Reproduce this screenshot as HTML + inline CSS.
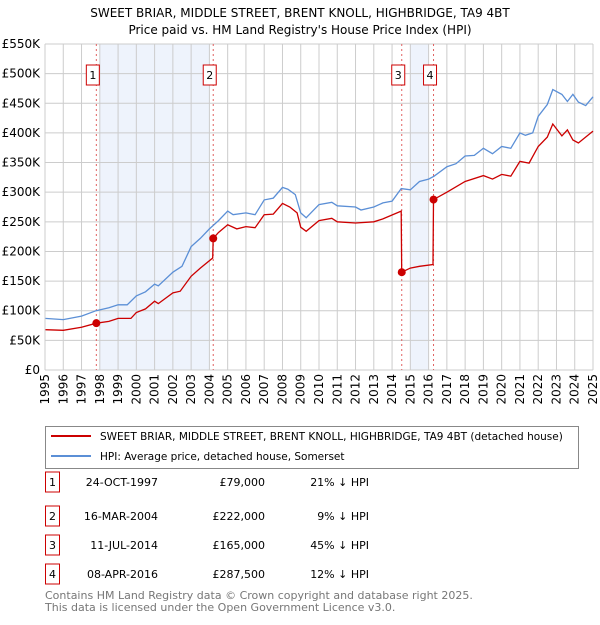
<!DOCTYPE html>
<html><head><meta charset="utf-8"><style>
body{margin:0;background:#fff;}
svg text{font-family:"DejaVu Sans","Liberation Sans",sans-serif;}
</style></head><body>
<svg id="c" width="600" height="620" xmlns="http://www.w3.org/2000/svg">
<text x="300" y="17" text-anchor="middle" font-size="12">SWEET BRIAR, MIDDLE STREET, BRENT KNOLL, HIGHBRIDGE, TA9 4BT</text>
<text x="300" y="34" text-anchor="middle" font-size="12">Price paid vs. HM Land Registry's House Price Index (HPI)</text>
<g id="plot"></g>
<rect x="45.5" y="426.5" width="533" height="42" fill="none" stroke="#888"/>
<line x1="51" y1="436" x2="91" y2="436" stroke="#cc0000" stroke-width="2"/>
<text x="100" y="440" font-size="10.5">SWEET BRIAR, MIDDLE STREET, BRENT KNOLL, HIGHBRIDGE, TA9 4BT (detached house)</text>
<line x1="51" y1="456" x2="91" y2="456" stroke="#5b8fd6" stroke-width="2"/>
<text x="100" y="460" font-size="10.5">HPI: Average price, detached house, Somerset</text>
<g id="table"></g>
<text x="45" y="599" font-size="11" fill="#777">Contains HM Land Registry data © Crown copyright and database right 2025.</text>
<text x="45" y="611" font-size="11" fill="#777">This data is licensed under the Open Government Licence v3.0.</text>
</svg>
<script>
const hpiT=[1995,1996,1997,1997.8,1998.5,1999,1999.5,2000,2000.5,2001,2001.2,2002,2002.5,2003,2003.5,2004,2004.5,2005,2005.3,2006,2006.5,2007,2007.5,2008,2008.3,2008.7,2009,2009.3,2010,2010.7,2011,2012,2012.3,2013,2013.5,2014,2014.5,2015,2015.5,2016,2016.3,2017,2017.5,2018,2018.5,2019,2019.5,2020,2020.5,2021,2021.3,2021.7,2022,2022.5,2022.8,2023.3,2023.6,2023.9,2024.2,2024.6,2025];
const hpiV=[87,85,91,100,105,110,110,125,132,145,142,165,175,208,222,238,252,268,262,265,262,287,290,308,305,296,265,257,279,283,277,275,270,275,282,285,306,304,318,322,327,343,348,361,362,374,365,377,374,400,396,400,428,448,473,465,453,465,452,446,461];
const priceT=[1995,1996,1997,1997.81,1998.5,1999,1999.7,2000,2000.5,2001,2001.2,2002,2002.4,2003,2003.5,2004.18,2004.21,2004.5,2005,2005.5,2006,2006.5,2007,2007.5,2008,2008.4,2008.8,2009,2009.3,2010,2010.7,2011,2012,2013,2013.5,2014.5,2014.53,2015,2015.5,2016.24,2016.27,2017,2018,2019,2019.5,2020,2020.5,2021,2021.5,2022,2022.5,2022.8,2023.3,2023.6,2023.9,2024.2,2025];
const priceV=[68,67,72,79,82,87,87,97,103,116,112,130,133,158,172,189,222,232,245,238,242,240,262,263,281,275,265,241,234,252,256,250,248,250,255,268,165,172,175,178,287.5,300,318,328,322,330,327,352,349,377,393,415,395,405,388,383,403];
const saleT=[1997.81,2004.21,2014.53,2016.27];
const saleV=[79,222,165,287.5];
const saleDates=["24-OCT-1997","16-MAR-2004","11-JUL-2014","08-APR-2016"];
const salePrices=["£79,000","£222,000","£165,000","£287,500"];
const salePct=["21% ↓ HPI","9% ↓ HPI","45% ↓ HPI","12% ↓ HPI"];
const bandStart=[1998,2015];const bandEnd=[2004,2016];
const yTicks=[0,50,100,150,200,250,300,350,400,450,500,550];
const yLabels=["£0","£50K","£100K","£150K","£200K","£250K","£300K","£350K","£400K","£450K","£500K","£550K"];
const xYears=[];for(let y=1995;y<=2025;y++)xYears.push(y);

const NS="http://www.w3.org/2000/svg";
const L=45,R=593,T=44,B=370;
const X=t=>L+(t-1995)/30*(R-L);
const Y=v=>B-v/550*(B-T);
const g=document.getElementById('plot');
function mk(tag,at,p){const e=document.createElementNS(NS,tag);for(const k in at)e.setAttribute(k,at[k]);(p||g).appendChild(e);return e;}
for(let i=0;i<bandStart.length;i++){
 const e=mk('rect',{x:X(bandStart[i]),y:T,width:X(bandEnd[i])-X(bandStart[i]),height:B-T,fill:'#eef3fc'});
 
 
}
for(const v of yTicks){
 const e=mk('line',{x1:L,x2:R,y1:Y(v),y2:Y(v),stroke:'#ccc'});
 
 
}
yTicks.forEach((v,i)=>{
 const e=mk('text',{x:L-5,y:Y(v)+4,'text-anchor':'end','font-size':'12'});e.textContent=yLabels[i];
 
 
});
for(const y of xYears){
 const e=mk('line',{x1:X(y),x2:X(y),y1:T,y2:B,stroke:'#ccc'});
 
 
 const t=mk('text',{x:0,y:0,'text-anchor':'end','font-size':'12',transform:`translate(${X(y)+4},${B+4}) rotate(-90)`});t.textContent=y;
 
 
}
saleT.forEach((t,i)=>{
 const e=mk('line',{x1:X(t),x2:X(t),y1:T,y2:B,stroke:'#e06060','stroke-dasharray':'2,3'});
 
 
 const bx=mk('rect',{x:X(t)-10,y:65,width:13,height:20,fill:'#fff',stroke:'#c00'});
 
 
 const tx=mk('text',{x:X(t)-3.5,y:79,'text-anchor':'middle','font-size':'11'});tx.textContent=i+1;
 
 
});
const hp=mk('path',{d:hpiT.map((t,i)=>(i?'L':'M')+X(t).toFixed(1)+','+Y(hpiV[i]).toFixed(1)).join(''),fill:'none',stroke:'#5b8fd6','stroke-width':1.3});


const pp=mk('path',{d:priceT.map((t,i)=>(i?'L':'M')+X(t).toFixed(1)+','+Y(priceV[i]).toFixed(1)).join(''),fill:'none',stroke:'#cc0000','stroke-width':1.3});


saleT.forEach((t,i)=>{
 const c=mk('circle',{cx:X(t),cy:Y(saleV[i]),r:4,fill:'#cc0000'});
 
 
});
mk('line',{x1:L,x2:L,y1:T,y2:B,stroke:'#ccc'});
const tb=document.getElementById('table');
const rowY=[482,516,545,574];
saleT.forEach((t,i)=>{
 const y=rowY[i];
 const b=mk('rect',{x:45.5,y:y-10,width:14,height:20,fill:'none',stroke:'#c00'},tb);
 
 
 const n=mk('text',{x:52.5,y:y+4,'text-anchor':'middle','font-size':'11'},tb);n.textContent=i+1;
 
 
 const d=mk('text',{x:158,y:y+4,'text-anchor':'end','font-size':'11'},tb);d.textContent=saleDates[i];
 
 
 const p=mk('text',{x:265,y:y+4,'text-anchor':'end','font-size':'11'},tb);p.textContent=salePrices[i];
 
 
 const h=mk('text',{x:369,y:y+4,'text-anchor':'end','font-size':'11'},tb);h.textContent=salePct[i];
 
 
});
</script>
</body></html>
